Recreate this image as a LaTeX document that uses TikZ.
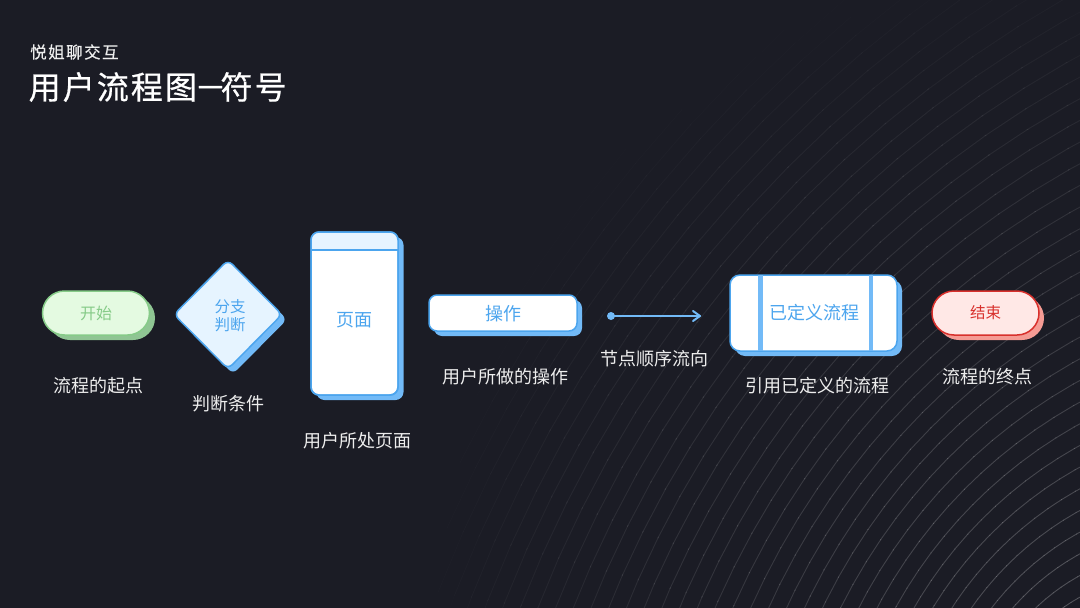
\documentclass[tikz,border=0pt]{standalone}
\usepackage{fontspec}
\setmainfont{Noto Sans CJK SC}
\newfontfamily\titlefont[LetterSpace=6.5,FakeBold=0.6]{Noto Sans CJK SC}
\newfontfamily\subfont[LetterSpace=9,FakeBold=0.3]{Noto Sans CJK SC}
\definecolor{bgc}{HTML}{1B1C25}
\definecolor{bluefill}{HTML}{E6F4FF}
\definecolor{blueedge}{HTML}{4CA5EE}
\definecolor{blueshadow}{HTML}{72BAF7}
\definecolor{greenfill}{HTML}{E4FAE1}
\definecolor{greenedge}{HTML}{86CB88}
\definecolor{greenshadow}{HTML}{8FC593}
\definecolor{redfill}{HTML}{FFE8E6}
\definecolor{rededge}{HTML}{D8302C}
\definecolor{redshadow}{HTML}{F59B94}
\definecolor{labelc}{HTML}{EDEDED}
\tikzset{
 box/.style={rectangle,inner sep=0pt,outer sep=0pt,line width=1.5pt,align=center},
 shadowbox/.style={box,draw=none},
 lab/.style={inner sep=0pt,text=labelc,yshift=-0.8pt,font=\fontsize{18pt}{20pt}\selectfont},
 inner/.style={inner sep=0pt,align=center,font=\fontsize{18pt}{20pt}\selectfont},
}
\begin{document}
\begin{tikzpicture}[x=1pt,y=-1pt]
\useasboundingbox (0,0) rectangle (1080,608);
\fill[bgc] (0,0) rectangle (1080,608);
\begin{scope}
\clip (0,0) rectangle (1080,608);
\foreach \k in {0,...,44}{
 \pgfmathsetmacro{\hh}{103+21.7*\k}
 \pgfmathsetmacro{\rr}{1.7*\hh}
 \pgfmathsetmacro{\cx}{1080+0.82*\hh}
 \pgfmathsetmacro{\cy}{700+0.49*\hh}
 \foreach \s in {0,...,24}{
  \pgfmathsetmacro{\aa}{117+\s*2.6}
  \pgfmathsetmacro{\bb}{\aa+2.7}
  \pgfmathsetmacro{\px}{\cx+\rr*cos(\aa+1.3)}
  \pgfmathsetmacro{\py}{\cy-\rr*sin(\aa+1.3)}
  \pgfmathsetmacro{\dd}{veclen(1080-\px,608-\py)}
  \pgfmathsetmacro{\op}{0.24*max(0,1-\dd/660)}
  \draw[white,line width=0.9pt,opacity=\op] ({\cx+\rr*cos(\aa)},{\cy-\rr*sin(\aa)}) -- ({\cx+\rr*cos(\bb)},{\cy-\rr*sin(\bb)});
 }
}
\end{scope}
% title
\node[anchor=west,inner sep=0pt,text=labelc,font=\fontsize{16.5pt}{18pt}\subfont] (sub) at (30,52) {悦姐聊交互};
\node[anchor=west,inner sep=0pt,text=white,font=\fontsize{32pt}{36pt}\titlefont] (title) at (28.5,87) {用户流程图\kern-2.5pt－\kern-6pt符号};
% start
\node[shadowbox,fill=greenshadow,minimum width=107pt,minimum height=44pt,rounded corners=22pt] (starts) at (101.5,318) {};
\node[box,fill=greenfill,draw=greenedge,minimum width=107pt,minimum height=44pt,rounded corners=22pt] (start) at (96,313) {};
\node[inner,text=greenedge,font=\fontsize{16pt}{18pt}\selectfont] (startt) at (96,313) {开始};
\node[lab] (l1) at (98,385) {流程的起点};
% decision
\draw[fill=blueshadow,draw=none,rounded corners=6pt] (233,265) -- (287,319.5) -- (233,374) -- (179,319.5) -- cycle;
\draw[fill=bluefill,draw=blueedge,line width=1.5pt,rounded corners=6pt] (228,260) -- (282,314.5) -- (228,369) -- (174,314.5) -- cycle;
\node[inner,text=blueedge,font=\fontsize{15.5pt}{18pt}\selectfont] (dect) at (230,316) {分支\\判断};
\node[lab] (l2) at (228,403) {判断条件};
% page
\node[shadowbox,fill=blueshadow,minimum width=87pt,minimum height=163pt,rounded corners=8pt] (pages) at (360,318.5) {};
\node[box,fill=white,draw=blueedge,minimum width=87pt,minimum height=163pt,rounded corners=8pt] (page) at (354.5,313.5) {};
\begin{scope}
\clip[rounded corners=8pt] (311,232) rectangle (398,395);
\fill[bluefill] (311,232) rectangle (398,250);
\draw[blueedge,line width=1.5pt] (311,250) -- (398,250);
\end{scope}
\draw[blueedge,line width=1.5pt,rounded corners=8pt] (311,232) rectangle (398,395);
\node[inner,text=blueedge] (paget) at (354,320) {页面};
\node[lab] (l3) at (357,440) {用户所处页面};
% action
\node[shadowbox,fill=blueshadow,minimum width=148pt,minimum height=36pt,rounded corners=8pt] (acts) at (508,318) {};
\node[box,fill=white,draw=blueedge,minimum width=148pt,minimum height=36pt,rounded corners=8pt] (act) at (503,313) {};
\node[inner,text=blueedge] (actt) at (503,313.5) {操作};
\node[lab] (l4) at (505,376) {用户所做的操作};
% arrow
\coordinate (af) at (611,316);
\coordinate (at) at (700,316);
\fill[blueshadow] (af) circle (4pt);
\draw[blueshadow,line width=2pt,line cap=round,line join=round] (af) -- (at);
\draw[blueshadow,line width=2pt,line cap=round,line join=round] ([xshift=-7pt,yshift=-5pt]at) -- (at) -- ([xshift=-7pt,yshift=5pt]at);
\node[lab] (l5) at (654,358) {节点顺序流向};
% defined
\node[shadowbox,fill=blueshadow,minimum width=167pt,minimum height=76pt,rounded corners=10pt] (defs) at (818.5,318) {};
\node[box,fill=white,draw=blueedge,minimum width=167pt,minimum height=76pt,rounded corners=10pt] (def) at (813.5,313) {};
\fill[blueshadow] (758,275) rectangle (762.5,351);
\fill[blueshadow] (868.5,275) rectangle (873,351);
\node[inner,text=blueedge] (deft) at (814,312.5) {已定义流程};
\node[lab] (l6) at (817,385) {引用已定义的流程};
% end
\node[shadowbox,fill=redshadow,minimum width=107pt,minimum height=44pt,rounded corners=22pt] (ends) at (990.5,318) {};
\node[box,fill=redfill,draw=rededge,minimum width=107pt,minimum height=44pt,rounded corners=22pt] (endn) at (985.5,313) {};
\node[inner,text=rededge,font=\fontsize{15.5pt}{18pt}\selectfont] (endt) at (985.5,313) {结束};
\node[lab] (l7) at (987,376) {流程的终点};
\end{tikzpicture}
\end{document}
